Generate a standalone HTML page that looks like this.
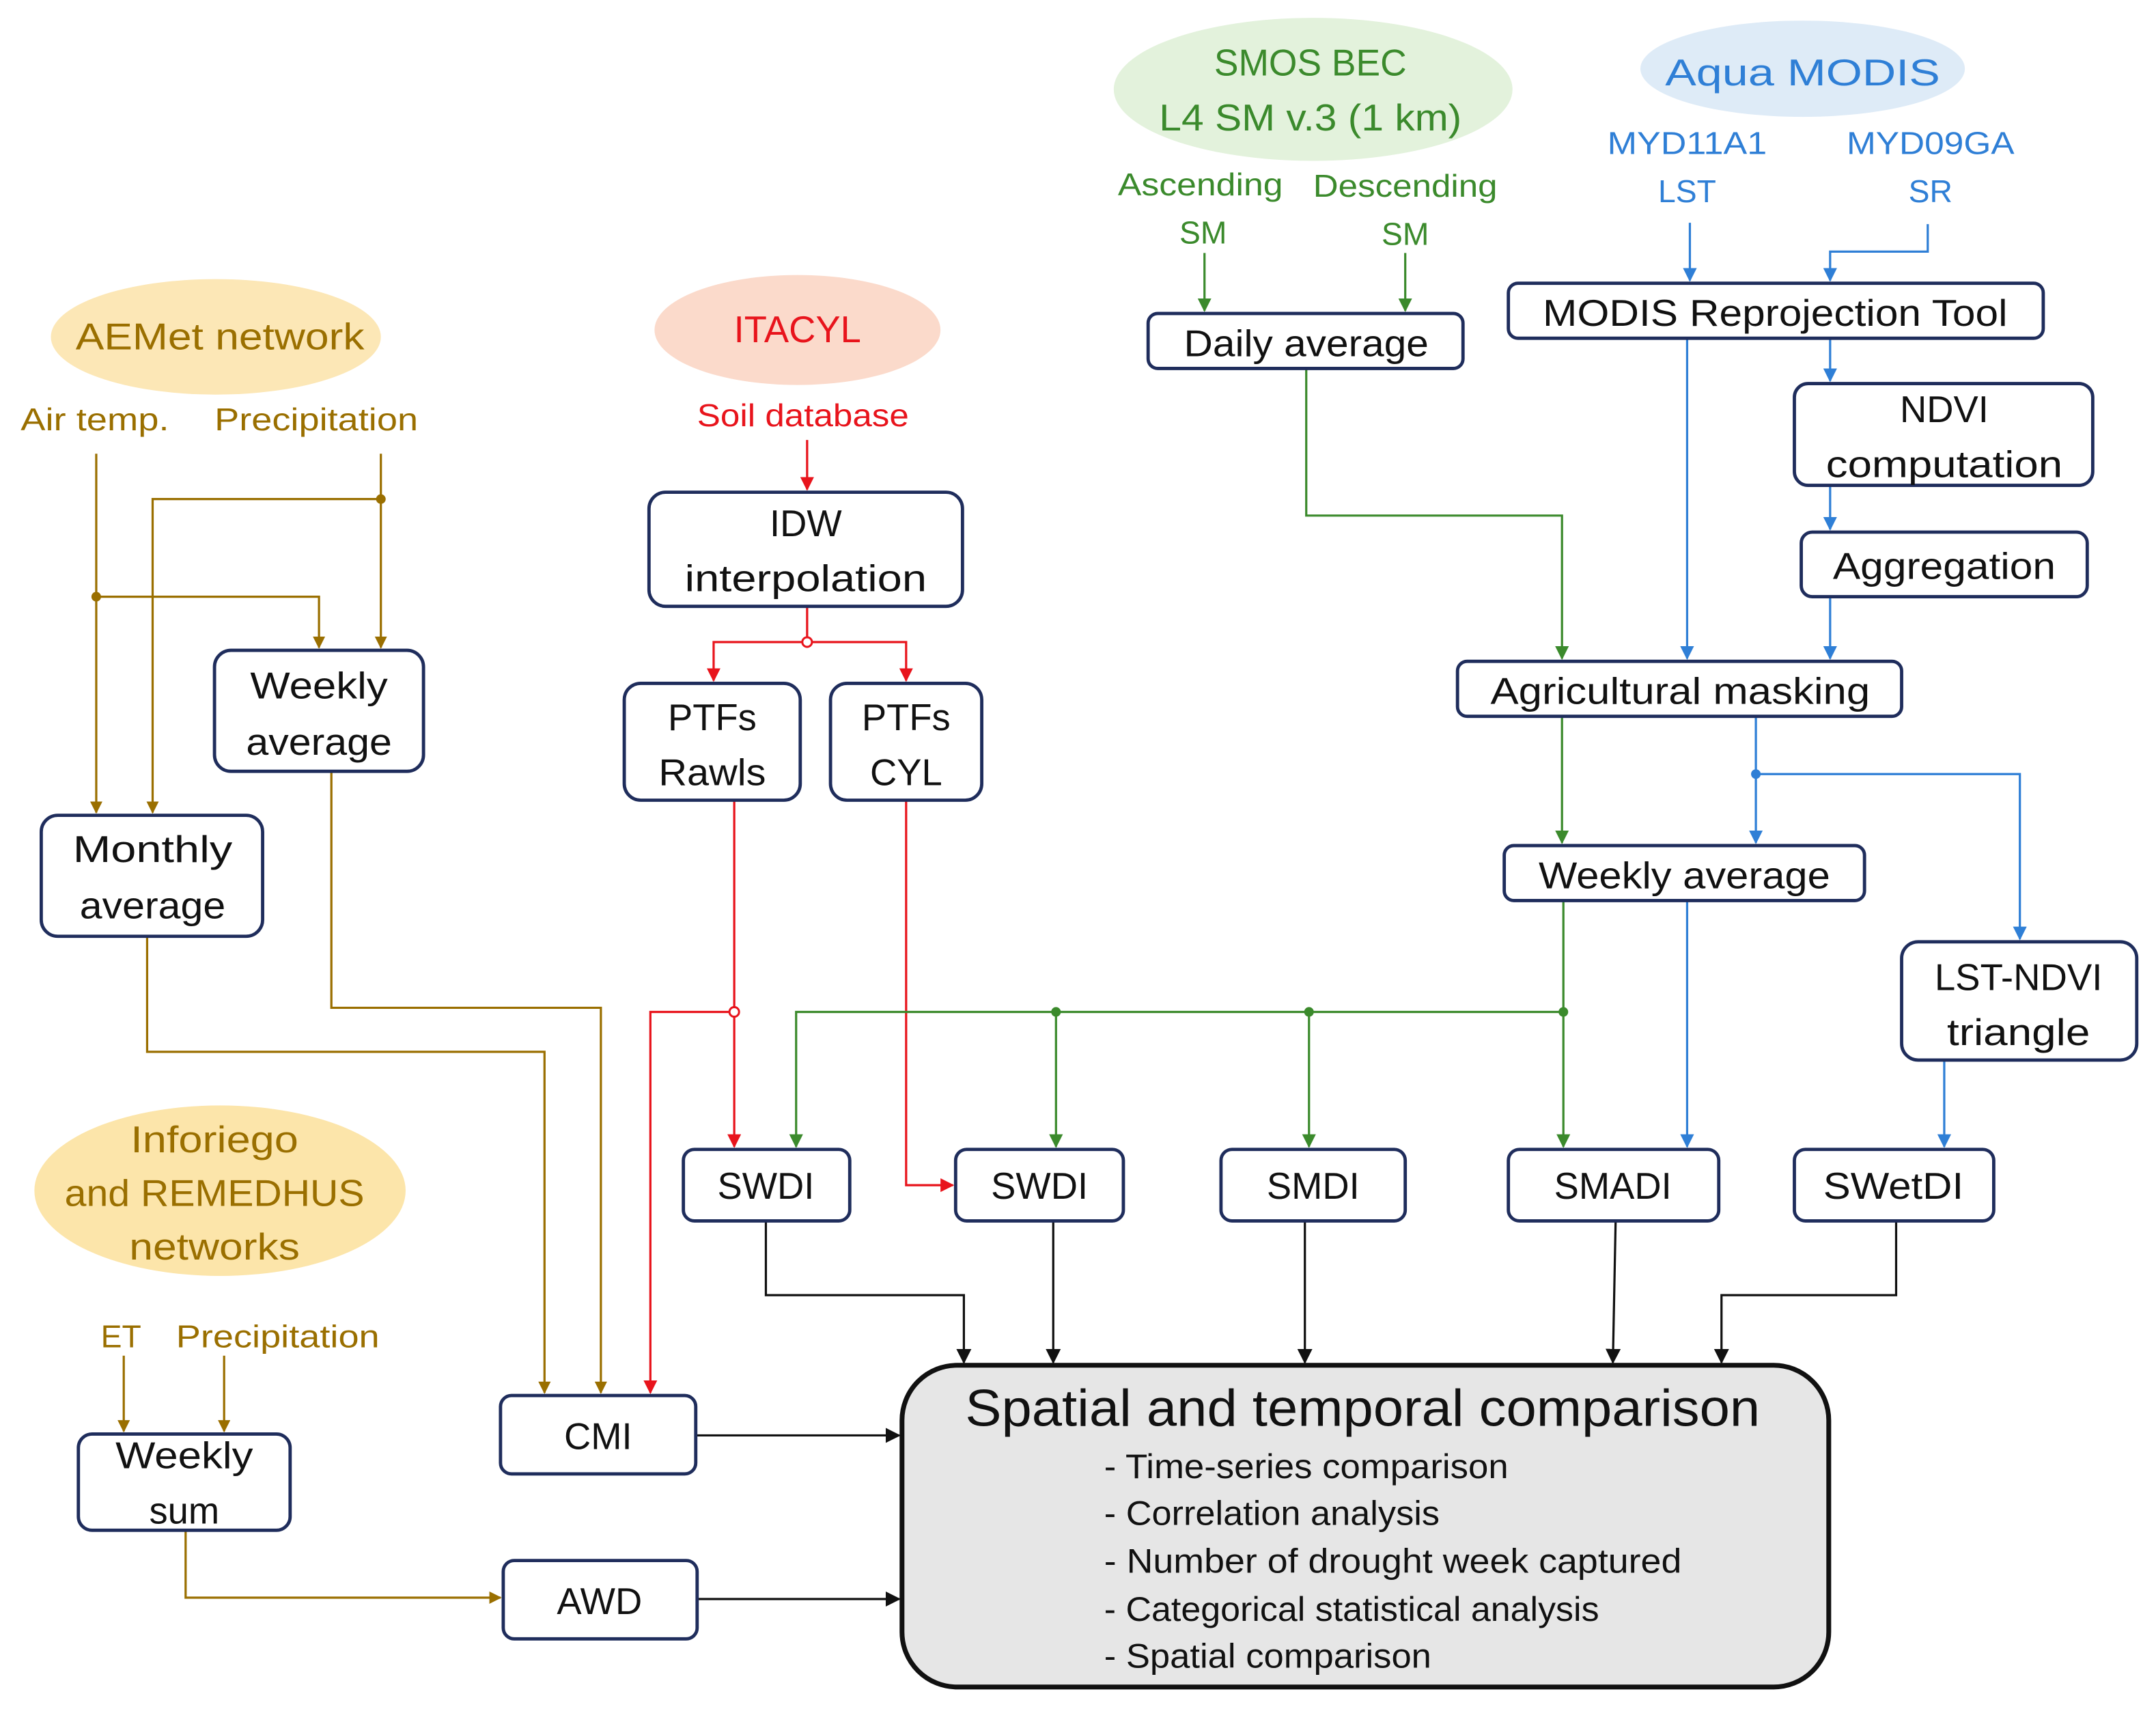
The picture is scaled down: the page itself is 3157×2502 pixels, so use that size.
<!DOCTYPE html>
<html><head><meta charset="utf-8"><style>html,body{margin:0;padding:0;background:#fff}svg{display:block}</style></head><body>
<svg width="3157" height="2502" viewBox="0 0 1568 1243" preserveAspectRatio="none" xmlns="http://www.w3.org/2000/svg" font-family="Liberation Sans, sans-serif">
<defs>
<marker id="ab" viewBox="0 0 10 10" refX="9" refY="5" markerWidth="9" markerHeight="9" markerUnits="userSpaceOnUse" orient="auto"><path d="M0,0L10,5L0,10z" fill="#9A6F00"/></marker>
<marker id="ar" viewBox="0 0 10 10" refX="9" refY="5" markerWidth="10" markerHeight="10" markerUnits="userSpaceOnUse" orient="auto"><path d="M0,0L10,5L0,10z" fill="#E8141C"/></marker>
<marker id="ag" viewBox="0 0 10 10" refX="9" refY="5" markerWidth="10" markerHeight="10" markerUnits="userSpaceOnUse" orient="auto"><path d="M0,0L10,5L0,10z" fill="#3B8A2C"/></marker>
<marker id="al" viewBox="0 0 10 10" refX="9" refY="5" markerWidth="10" markerHeight="10" markerUnits="userSpaceOnUse" orient="auto"><path d="M0,0L10,5L0,10z" fill="#2F7FD6"/></marker>
<marker id="ak" viewBox="0 0 10 10" refX="9" refY="5" markerWidth="11" markerHeight="11" markerUnits="userSpaceOnUse" orient="auto"><path d="M0,0L10,5L0,10z" fill="#111"/></marker>
</defs>
<!-- ellipses -->
<ellipse cx="157" cy="245" rx="120" ry="42" fill="#FCE7B6"/>
<ellipse cx="580" cy="240" rx="104" ry="40" fill="#FBDACB"/>
<ellipse cx="955" cy="65" rx="145" ry="52" fill="#E3F2DC"/>
<ellipse cx="1311" cy="50" rx="118" ry="35" fill="#DEEBF7"/>
<ellipse cx="160" cy="866" rx="135" ry="62" fill="#FCE5AA"/>
<!-- ellipse texts -->
<g font-size="27" text-anchor="middle">
<text x="160" y="254" fill="#9A6F00" textLength="210" lengthAdjust="spacingAndGlyphs">AEMet network</text>
<text x="580" y="249" fill="#E8141C">ITACYL</text>
<text x="953" y="55" fill="#3B8A2C" textLength="140" lengthAdjust="spacingAndGlyphs">SMOS BEC</text>
<text x="953" y="95" fill="#3B8A2C" textLength="220" lengthAdjust="spacingAndGlyphs">L4 SM v.3 (1 km)</text>
<text x="1311" y="62" fill="#2F7FD6" textLength="200" lengthAdjust="spacingAndGlyphs">Aqua MODIS</text>
<text x="156" y="838" fill="#9A6F00" textLength="122" lengthAdjust="spacingAndGlyphs">Inforiego</text>
<text x="156" y="877" fill="#9A6F00" textLength="218" lengthAdjust="spacingAndGlyphs">and REMEDHUS</text>
<text x="156" y="916" fill="#9A6F00" textLength="124" lengthAdjust="spacingAndGlyphs">networks</text>
</g>
<g font-size="23" text-anchor="middle">
<text x="69" y="313" fill="#9A6F00" textLength="108" lengthAdjust="spacingAndGlyphs">Air temp.</text>
<text x="230" y="313" fill="#9A6F00" textLength="148" lengthAdjust="spacingAndGlyphs">Precipitation</text>
<text x="584" y="310" fill="#E8141C" textLength="154" lengthAdjust="spacingAndGlyphs">Soil database</text>
<text x="873" y="142" fill="#3B8A2C" textLength="120" lengthAdjust="spacingAndGlyphs">Ascending</text>
<text x="875" y="177" fill="#3B8A2C">SM</text>
<text x="1022" y="143" fill="#3B8A2C" textLength="134" lengthAdjust="spacingAndGlyphs">Descending</text>
<text x="1022" y="178" fill="#3B8A2C">SM</text>
<text x="1227" y="112" fill="#2F7FD6" textLength="116" lengthAdjust="spacingAndGlyphs">MYD11A1</text>
<text x="1227" y="147" fill="#2F7FD6">LST</text>
<text x="1404" y="112" fill="#2F7FD6" textLength="122" lengthAdjust="spacingAndGlyphs">MYD09GA</text>
<text x="1404" y="147" fill="#2F7FD6">SR</text>
<text x="88" y="980" fill="#9A6F00">ET</text>
<text x="202" y="980" fill="#9A6F00" textLength="148" lengthAdjust="spacingAndGlyphs">Precipitation</text>
</g>
<!-- connectors brown -->
<g stroke="#9A6F00" stroke-width="1.6" fill="none">
<path d="M70,330V591" marker-end="url(#ab)"/>
<path d="M277,330V471" marker-end="url(#ab)"/>
<path d="M277,363H111V591" marker-end="url(#ab)"/>
<path d="M70,434H232V471" marker-end="url(#ab)"/>
<path d="M241,561V733H437V1013" marker-end="url(#ab)"/>
<path d="M107,681V765H396V1013" marker-end="url(#ab)"/>
<path d="M90,986V1041" marker-end="url(#ab)"/>
<path d="M163,986V1041" marker-end="url(#ab)"/>
<path d="M135,1113V1162H364" marker-end="url(#ab)"/>
</g>
<circle cx="277" cy="363" r="3.5" fill="#9A6F00"/><circle cx="70" cy="434" r="3.5" fill="#9A6F00"/>
<!-- red -->
<g stroke="#E8141C" stroke-width="1.6" fill="none">
<path d="M587,320V356" marker-end="url(#ar)"/>
<path d="M587,441V467"/>
<path d="M587,467H519V495" marker-end="url(#ar)"/>
<path d="M587,467H659V495" marker-end="url(#ar)"/>
<path d="M534,582V834" marker-end="url(#ar)"/>
<path d="M534,736H473V1013" marker-end="url(#ar)"/>
<path d="M659,582V862H693" marker-end="url(#ar)"/>
</g>
<circle cx="587" cy="467" r="3.5" fill="#fff" stroke="#E8141C" stroke-width="1.5"/><circle cx="534" cy="736" r="3.5" fill="#fff" stroke="#E8141C" stroke-width="1.5"/>
<!-- green -->
<g stroke="#3B8A2C" stroke-width="1.6" fill="none">
<path d="M876,184V226" marker-end="url(#ag)"/>
<path d="M1022,184V226" marker-end="url(#ag)"/>
<path d="M950,268V375H1136V479" marker-end="url(#ag)"/>
<path d="M1136,521V613" marker-end="url(#ag)"/>
<path d="M1137,655V834" marker-end="url(#ag)"/>
<path d="M1137,736H579V834" marker-end="url(#ag)"/>
<path d="M768,736V834" marker-end="url(#ag)"/>
<path d="M952,736V834" marker-end="url(#ag)"/>
</g>
<circle cx="768" cy="736" r="3.5" fill="#3B8A2C"/><circle cx="952" cy="736" r="3.5" fill="#3B8A2C"/><circle cx="1137" cy="736" r="3.5" fill="#3B8A2C"/>
<!-- blue -->
<g stroke="#2F7FD6" stroke-width="1.6" fill="none">
<path d="M1229,162V204" marker-end="url(#al)"/>
<path d="M1402,163V183H1331V204" marker-end="url(#al)"/>
<path d="M1227,246V479" marker-end="url(#al)"/>
<path d="M1331,246V277" marker-end="url(#al)"/>
<path d="M1331,353V385" marker-end="url(#al)"/>
<path d="M1331,434V479" marker-end="url(#al)"/>
<path d="M1277,521V613" marker-end="url(#al)"/>
<path d="M1277,563H1469V683" marker-end="url(#al)"/>
<path d="M1227,655V834" marker-end="url(#al)"/>
<path d="M1414,771V834" marker-end="url(#al)"/>
</g>
<circle cx="1277" cy="563" r="3.5" fill="#2F7FD6"/>
<!-- black -->
<g stroke="#111" stroke-width="1.6" fill="none">
<path d="M557,888V942H701V991" marker-end="url(#ak)"/>
<path d="M766,888V991" marker-end="url(#ak)"/>
<path d="M949,888V991" marker-end="url(#ak)"/>
<path d="M1175,888L1173,991" marker-end="url(#ak)"/>
<path d="M1379,888V942H1252V991" marker-end="url(#ak)"/>
<path d="M506,1044H654" marker-end="url(#ak)"/>
<path d="M507,1163H654" marker-end="url(#ak)"/>
</g>
<!-- boxes -->
<g fill="#fff" stroke="#1F2D5C" stroke-width="2.4">
<rect x="835" y="228" width="229" height="40" rx="7"/>
<rect x="1097" y="206" width="389" height="40" rx="7"/>
<rect x="1305" y="279" width="217" height="74" rx="10"/>
<rect x="1310" y="387" width="208" height="47" rx="8"/>
<rect x="1060" y="481" width="323" height="40" rx="7"/>
<rect x="1094" y="615" width="262" height="40" rx="7"/>
<rect x="1383" y="685" width="171" height="86" rx="12"/>
<rect x="472" y="358" width="228" height="83" rx="12"/>
<rect x="454" y="497" width="128" height="85" rx="12"/>
<rect x="604" y="497" width="110" height="85" rx="12"/>
<rect x="156" y="473" width="152" height="88" rx="12"/>
<rect x="30" y="593" width="161" height="88" rx="12"/>
<rect x="497" y="836" width="121" height="52" rx="8"/>
<rect x="695" y="836" width="122" height="52" rx="8"/>
<rect x="888" y="836" width="134" height="52" rx="8"/>
<rect x="1097" y="836" width="153" height="52" rx="8"/>
<rect x="1305" y="836" width="145" height="52" rx="8"/>
<rect x="364" y="1015" width="142" height="57" rx="8"/>
<rect x="366" y="1135" width="141" height="57" rx="8"/>
<rect x="57" y="1043" width="154" height="70" rx="10"/>
</g>
<rect x="656" y="993" width="674" height="234" rx="40" fill="#E6E6E6" stroke="#111" stroke-width="3.5"/>
<!-- box texts -->
<g font-size="27" text-anchor="middle" fill="#111">
<text x="950" y="259" textLength="178" lengthAdjust="spacingAndGlyphs">Daily average</text>
<text x="1291" y="237" textLength="338" lengthAdjust="spacingAndGlyphs">MODIS Reprojection Tool</text>
<text x="1414" y="307">NDVI</text>
<text x="1414" y="347" textLength="172" lengthAdjust="spacingAndGlyphs">computation</text>
<text x="1414" y="421" textLength="162" lengthAdjust="spacingAndGlyphs">Aggregation</text>
<text x="1222" y="512" textLength="276" lengthAdjust="spacingAndGlyphs">Agricultural masking</text>
<text x="1225" y="646" textLength="212" lengthAdjust="spacingAndGlyphs">Weekly average</text>
<text x="1468" y="720" textLength="122" lengthAdjust="spacingAndGlyphs">LST-NDVI</text>
<text x="1468" y="760" textLength="104" lengthAdjust="spacingAndGlyphs">triangle</text>
<text x="586" y="390">IDW</text>
<text x="586" y="430" textLength="176" lengthAdjust="spacingAndGlyphs">interpolation</text>
<text x="518" y="531">PTFs</text>
<text x="518" y="571" textLength="78" lengthAdjust="spacingAndGlyphs">Rawls</text>
<text x="659" y="531">PTFs</text>
<text x="659" y="571">CYL</text>
<text x="232" y="508" textLength="100" lengthAdjust="spacingAndGlyphs">Weekly</text>
<text x="232" y="549" textLength="106" lengthAdjust="spacingAndGlyphs">average</text>
<text x="111" y="627" textLength="116" lengthAdjust="spacingAndGlyphs">Monthly</text>
<text x="111" y="668" textLength="106" lengthAdjust="spacingAndGlyphs">average</text>
<text x="557" y="872">SWDI</text>
<text x="756" y="872">SWDI</text>
<text x="955" y="872">SMDI</text>
<text x="1173" y="872">SMADI</text>
<text x="1377" y="872" textLength="102" lengthAdjust="spacingAndGlyphs">SWetDI</text>
<text x="435" y="1054">CMI</text>
<text x="436" y="1174">AWD</text>
<text x="134" y="1068" textLength="100" lengthAdjust="spacingAndGlyphs">Weekly</text>
<text x="134" y="1108">sum</text>
<text x="991" y="1037" font-size="38" textLength="578" lengthAdjust="spacingAndGlyphs">Spatial and temporal comparison</text>
</g>
<g font-size="25" fill="#111">
<text x="803" y="1075" textLength="294" lengthAdjust="spacingAndGlyphs">- Time-series comparison</text>
<text x="803" y="1109" textLength="244" lengthAdjust="spacingAndGlyphs">- Correlation analysis</text>
<text x="803" y="1144" textLength="420" lengthAdjust="spacingAndGlyphs">- Number of drought week captured</text>
<text x="803" y="1179" textLength="360" lengthAdjust="spacingAndGlyphs">- Categorical statistical analysis</text>
<text x="803" y="1213" textLength="238" lengthAdjust="spacingAndGlyphs">- Spatial comparison</text>
</g>
</svg>
</body></html>
